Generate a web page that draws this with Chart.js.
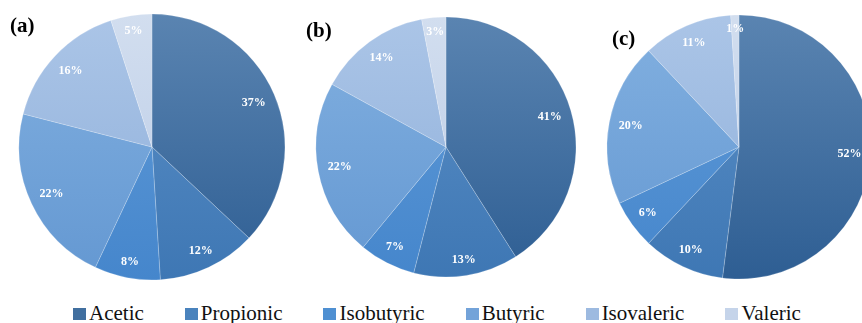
<!DOCTYPE html>
<html>
<head>
<meta charset="utf-8">
<script src="https://cdn.jsdelivr.net/npm/chart.js@4.4.1/dist/chart.umd.min.js"></script>
<style>
  html, body { margin: 0; padding: 0; background: #ffffff; }
  body { width: 862px; height: 323px; overflow: hidden; position: relative; }
  canvas { position: absolute; top: 0; }
  .serif { font-family: "Liberation Serif", "Times New Roman", "DejaVu Serif", serif; }
  .panel { position: absolute; font-weight: bold; font-size: 21px; line-height: 21px; color: #000; }
  #legend { position: absolute; left: 73px; top: 303px; display: flex; gap: 41px; }
  .item { display: flex; align-items: center; font-size: 21px; line-height: 21px; color: #111; }
  .swatch { width: 13px; height: 12px; margin-right: 3px; }
</style>
</head>
<body>
<canvas id="pieA" width="300" height="294" style="left:2px"></canvas>
<canvas id="pieB" width="300" height="294" style="left:296px"></canvas>
<canvas id="pieC" width="300" height="294" style="left:589px"></canvas>
<div class="panel serif" style="left:10px;top:15px">(a)</div>
<div class="panel serif" style="left:306px;top:20px">(b)</div>
<div class="panel serif" style="left:612px;top:28px">(c)</div>
<div id="legend" class="serif"></div>
<script>
// Volatile fatty acid categories and their share (%) in each sample
const acids = ["Acetic", "Propionic", "Isobutyric", "Butyric", "Isovaleric", "Valeric"];
const sampleA = [37, 12, 8, 22, 16, 5];
const sampleB = [41, 13, 7, 22, 14, 3];
const sampleC = [52, 10, 6, 20, 11, 1];

// Slice shades: lighter at the top of the pie, darker at the bottom
const topShades = ["#5a84b1", "#5c90c7", "#629cd8", "#82b0e0", "#abc5e7", "#d2deef"];
const bottomShades = ["#2e5e93", "#3e77b4", "#4586cc", "#6498d2", "#8eafda", "#b8cae6"];
const swatchShades = ["#416f9f", "#4a83bd", "#4f90d2", "#73a3d9", "#9dbae0", "#c5d4ea"];

const labelFont = "bold 12px 'Liberation Serif', 'Times New Roman', 'DejaVu Serif', serif";

function shadedFill(radius) {
  return (ctx) => {
    const chart = ctx.chart;
    const area = chart.chartArea;
    const i = ctx.dataIndex;
    if (!area) return swatchShades[i];
    const cy = (area.top + area.bottom) / 2;
    const g = chart.ctx.createLinearGradient(0, cy - radius, 0, cy + radius);
    g.addColorStop(0, topShades[i]);
    g.addColorStop(1, bottomShades[i]);
    return g;
  };
}

// Percent labels placed just inside the outer edge of each slice
const insideEndLabels = {
  id: "insideEndLabels",
  afterDatasetsDraw(chart) {
    const ctx = chart.ctx;
    const meta = chart.getDatasetMeta(0);
    const values = chart.data.datasets[0].data;
    ctx.save();
    ctx.font = labelFont;
    ctx.fillStyle = "#ffffff";
    ctx.textAlign = "center";
    ctx.textBaseline = "middle";
    meta.data.forEach((arc, i) => {
      const p = arc.getProps(["x", "y", "startAngle", "endAngle", "outerRadius"], true);
      const mid = (p.startAngle + p.endAngle) / 2;
      const text = values[i] + "%";
      const hw = ctx.measureText(text).width / 2;
      const hh = 5;
      const inset = hw * Math.abs(Math.cos(mid)) + hh * Math.abs(Math.sin(mid)) + 9;
      const r = p.outerRadius - inset;
      ctx.fillText(text, p.x + r * Math.cos(mid), p.y + r * Math.sin(mid));
    });
    ctx.restore();
  }
};

function makePie(id, values, radius) {
  return new Chart(document.getElementById(id), {
    type: "pie",
    data: {
      labels: acids,
      datasets: [{
        data: values,
        backgroundColor: shadedFill(radius),
        borderColor: "rgba(255,255,255,0.2)",
        borderWidth: 1
      }]
    },
    options: {
      responsive: false,
      animation: false,
      radius: radius,
      layout: { padding: 0 },
      plugins: { legend: { display: false }, tooltip: { enabled: false } }
    },
    plugins: [insideEndLabels]
  });
}

function drawAll() {
  makePie("pieA", sampleA, 133);
  makePie("pieB", sampleB, 130);
  makePie("pieC", sampleC, 132);
}

// Shared legend row
const legend = document.getElementById("legend");
acids.forEach((name, i) => {
  const item = document.createElement("div");
  item.className = "item";
  const sw = document.createElement("span");
  sw.className = "swatch";
  sw.style.background = swatchShades[i];
  const label = document.createElement("span");
  label.textContent = name;
  item.appendChild(sw);
  item.appendChild(label);
  legend.appendChild(item);
});

// Make sure the serif face is ready before the canvas labels are painted
if (document.fonts && document.fonts.load) {
  document.fonts.load(labelFont, "0123456789%").then(drawAll, drawAll);
} else {
  drawAll();
}
</script>
</body>
</html>
